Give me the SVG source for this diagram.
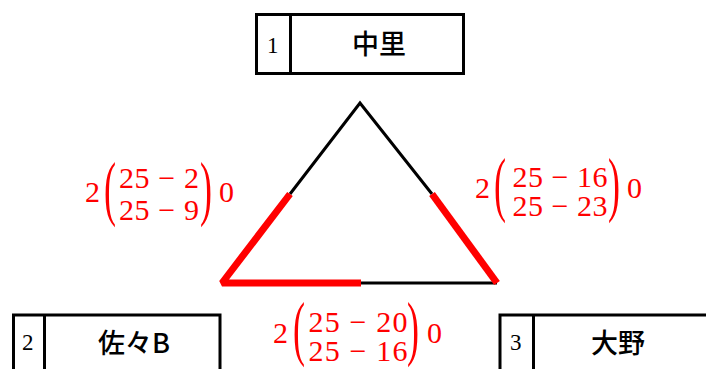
<svg xmlns="http://www.w3.org/2000/svg" width="706" height="369" viewBox="0 0 706 369">
<style>
.box{fill:#fff;stroke:#000;stroke-width:3}
.num{font-family:"Liberation Serif",serif;font-size:23px;fill:#000}
.name{font-family:"Noto Sans CJK JP","Noto Sans CJK SC",sans-serif;font-size:27px;font-weight:500;fill:#000;text-anchor:middle}
.m{font-family:"Liberation Serif",serif;font-size:30px;fill:#ff0000}
.row{text-anchor:middle}
.par{font-family:"Liberation Serif",serif;font-size:72px;fill:#ff0000}
.blk{stroke:#000;stroke-width:3;fill:none}
.red{stroke:#ff0000;stroke-width:7;fill:none;stroke-linejoin:bevel}
</style>
<rect width="706" height="369" fill="#fff"/>
<g id="connectors">
<polyline class="blk" points="290,194 360,103 432,194"/>
<line class="blk" x1="360" y1="283" x2="497" y2="283"/>
<polyline class="red" points="290,194 222,283 361,283"/>
<line class="red" x1="432" y1="194" x2="497" y2="283"/>
</g>
<g id="node1">
<rect class="box" x="256.5" y="14.5" width="207" height="59"/>
<line class="box" x1="290.5" y1="14.5" x2="290.5" y2="73.5"/>
<text class="num" x="267" y="53">1</text>
<text class="name" x="379" y="54">中里</text>
</g>
<g id="node2">
<rect class="box" x="13.5" y="315" width="206.5" height="70"/>
<line class="box" x1="44.5" y1="315" x2="44.5" y2="385"/>
<text class="num" x="22" y="350">2</text>
<text class="name" x="134" y="353">佐々B</text>
</g>
<g id="node3">
<rect class="box" x="500" y="315" width="220" height="70"/>
<line class="box" x1="533.5" y1="315" x2="533.5" y2="385"/>
<text class="num" x="510" y="350">3</text>
<text class="name" x="618" y="353">大野</text>
</g>
<g id="label-left">
<text class="m" x="85" y="202">2</text>
<text class="par" transform="translate(104,212) scale(0.5,1)">(</text>
<text class="m row" x="159" y="188" textLength="80">25 − 2</text>
<text class="m row" x="159" y="220" textLength="80">25 − 9</text>
<text class="par" transform="translate(200,212) scale(0.5,1)">)</text>
<text class="m" x="219" y="202">0</text>
</g>
<g id="label-right">
<text class="m" x="475" y="198">2</text>
<text class="par" transform="translate(494,208) scale(0.5,1)">(</text>
<text class="m row" x="560" y="187" textLength="95">25 − 16</text>
<text class="m row" x="560" y="216" textLength="95">25 − 23</text>
<text class="par" transform="translate(608,208) scale(0.5,1)">)</text>
<text class="m" x="627" y="198">0</text>
</g>
<g id="label-bottom">
<text class="m" x="273" y="343">2</text>
<text class="par" transform="translate(293,352) scale(0.5,1)">(</text>
<text class="m row" x="358" y="332" textLength="99">25 − 20</text>
<text class="m row" x="358" y="361" textLength="99">25 − 16</text>
<text class="par" transform="translate(407,352) scale(0.5,1)">)</text>
<text class="m" x="427" y="343">0</text>
</g>
</svg>
